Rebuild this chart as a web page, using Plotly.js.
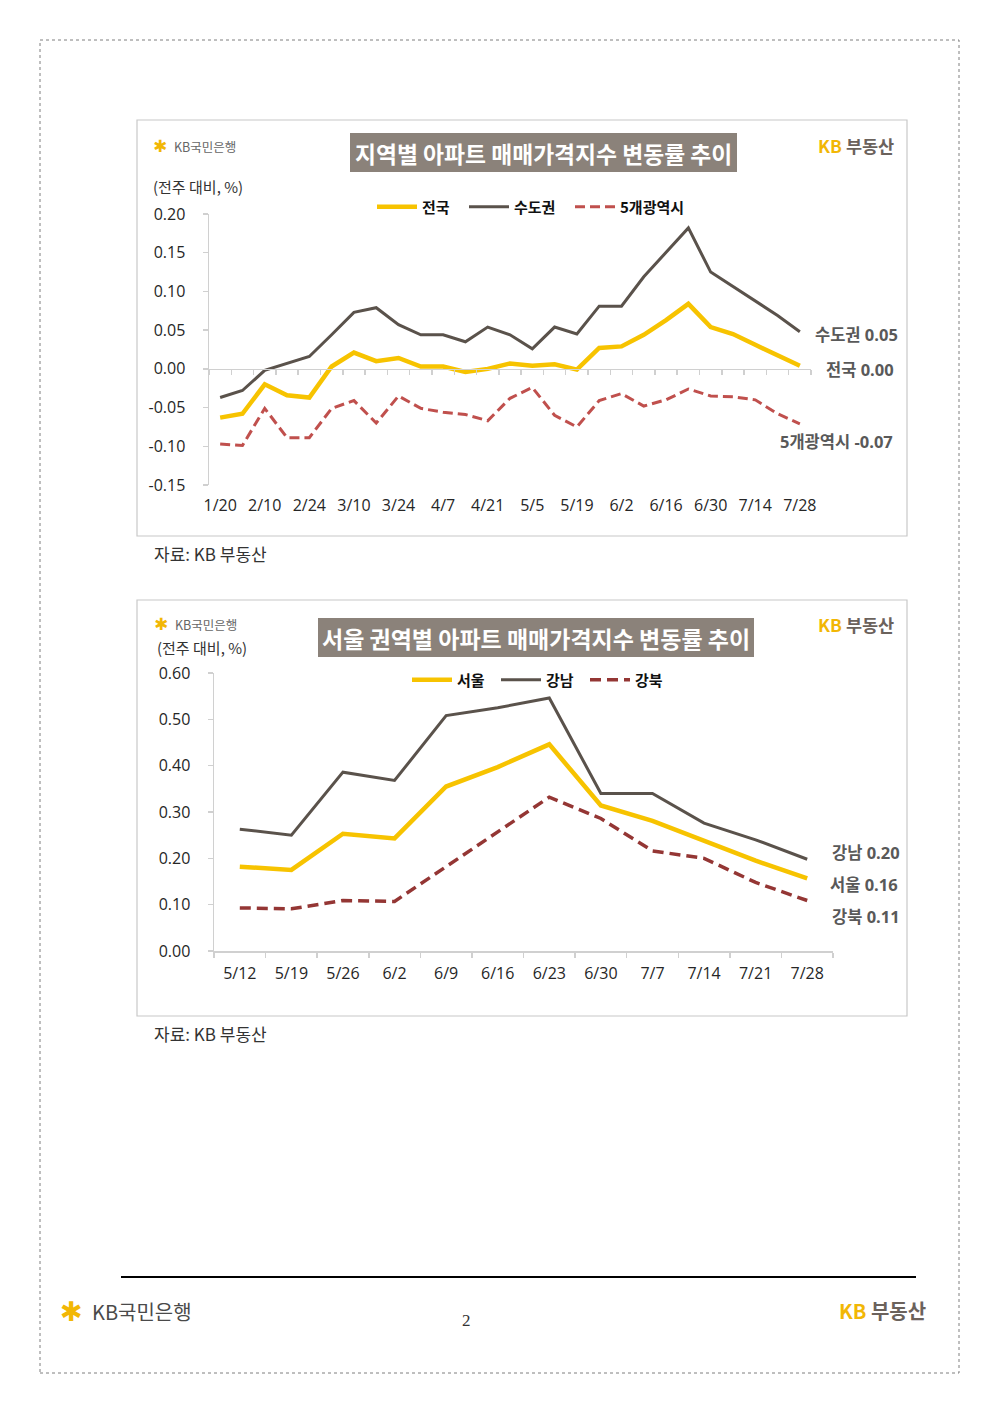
<!DOCTYPE html>
<html>
<head>
<meta charset="utf-8">
<script src="https://cdn.plot.ly/plotly-3.0.1.min.js"></script>
<style>
html,body{margin:0;padding:0;background:#fff;}
#chart{width:1000px;height:1414px;}
</style>
</head>
<body>
<div id="chart"></div>
<script>
// ---------- data ----------
const categories1 = ['1/20','2/3','2/10','2/17','2/24','3/3','3/10','3/17','3/24','3/31','4/7','4/14','4/21','4/28','5/5','5/12','5/19','5/26','6/2','6/9','6/16','6/23','6/30','7/7','7/14','7/21','7/28'];
const nationwide = [-0.063,-0.058,-0.020,-0.034,-0.037,0.003,0.021,0.010,0.014,0.003,0.003,-0.004,0.000,0.007,0.004,0.006,-0.001,0.027,0.029,0.044,0.063,0.084,0.054,0.045,0.031,0.017,0.004];
const capital = [-0.037,-0.028,-0.002,0.007,0.016,0.044,0.073,0.079,0.057,0.044,0.044,0.035,0.054,0.044,0.026,0.054,0.045,0.081,0.081,0.119,0.151,0.182,0.125,0.106,0.088,0.069,0.048];
const metro5 = [-0.097,-0.099,-0.051,-0.089,-0.089,-0.051,-0.041,-0.070,-0.035,-0.051,-0.056,-0.059,-0.067,-0.038,-0.024,-0.060,-0.075,-0.041,-0.032,-0.048,-0.040,-0.026,-0.035,-0.036,-0.040,-0.058,-0.071];
const series1Names = ['전국','수도권','5개광역시'];
const yTicks1 = [-0.15,-0.10,-0.05,0.00,0.05,0.10,0.15,0.20];

const categories2 = ['5/12','5/19','5/26','6/2','6/9','6/16','6/23','6/30','7/7','7/14','7/21','7/28'];
const seoul = [0.182,0.175,0.253,0.243,0.355,0.397,0.446,0.314,0.281,0.239,0.195,0.157];
const gangnam = [0.263,0.250,0.386,0.368,0.508,0.525,0.546,0.340,0.340,0.276,0.240,0.198];
const gangbuk = [0.093,0.091,0.109,0.107,0.182,0.256,0.332,0.286,0.216,0.200,0.148,0.109];
const series2Names = ['서울','강남','강북'];
const yTicks2 = [0.00,0.10,0.20,0.30,0.40,0.50,0.60];

const title1 = '지역별 아파트 매매가격지수 변동률 추이';
const title2 = '서울 권역별 아파트 매매가격지수 변동률 추이';
const unitLabel = '(전주 대비, %)';
const sourceLabel = '자료: KB 부동산';
const pageNumber = '2';

// ---------- style ----------
const W = 1000, H = 1414;
const px = x => x / W;
const py = y => 1 - y / H;
const FONT = "'Open Sans', 'Noto Sans CJK KR', sans-serif";
const KFONT = "'Noto Sans CJK KR', 'Open Sans', sans-serif";
const YELLOW = '#F7C300', DARK = '#5A524B', RED = '#C0504D', MAROON = '#943634';
const AXC = '#d0d0d0';
const TITLEBG = '#8B827A';

const idx1 = categories1.map((c, i) => i);
const idx2 = categories2.map((c, i) => i);
const labelIdx1 = idx1.filter(i => i % 2 === 0);

const traces = [
  {x: idx1, y: nationwide, name: series1Names[0], type: 'scatter', mode: 'lines', line: {color: YELLOW, width: 4.5}, xaxis: 'x', yaxis: 'y', legend: 'legend', legendwidth: 37},
  {x: idx1, y: capital, name: series1Names[1], type: 'scatter', mode: 'lines', line: {color: DARK, width: 3}, xaxis: 'x', yaxis: 'y', legend: 'legend', legendwidth: 51},
  {x: idx1, y: metro5, name: series1Names[2], type: 'scatter', mode: 'lines', line: {color: RED, width: 3, dash: '10px,5px'}, xaxis: 'x2', yaxis: 'y', legend: 'legend'},
  {x: idx2, y: seoul, name: series2Names[0], type: 'scatter', mode: 'lines', line: {color: YELLOW, width: 4.5}, xaxis: 'x3', yaxis: 'y2', legend: 'legend2', legendwidth: 34},
  {x: idx2, y: gangnam, name: series2Names[1], type: 'scatter', mode: 'lines', line: {color: DARK, width: 3}, xaxis: 'x3', yaxis: 'y2', legend: 'legend2', legendwidth: 34},
  {x: idx2, y: gangbuk, name: series2Names[2], type: 'scatter', mode: 'lines', line: {color: MAROON, width: 3.5, dash: '11px,6px'}, xaxis: 'x3', yaxis: 'y2', legend: 'legend2'}
];

// plot areas (pixels)
const c1 = {x0: 209, x1: 811, yTop: 214, yBot: 485};
const c2 = {x0: 214, x1: 833, yTop: 673, yBot: 951};
const y1Range = [yTicks1[0], yTicks1[yTicks1.length - 1]];
const y1Dom = [py(c1.yBot), py(c1.yTop)];
const zeroPos1 = y1Dom[0] + (0 - y1Range[0]) / (y1Range[1] - y1Range[0]) * (y1Dom[1] - y1Dom[0]);
const x1Range = [-0.5, categories1.length - 0.5];

const tickFont = {family: FONT, size: 16, color: '#262626'};

const layout = {
  width: W, height: H,
  margin: {l: 0, r: 0, t: 0, b: 0},
  paper_bgcolor: '#ffffff',
  plot_bgcolor: 'rgba(0,0,0,0)',
  showlegend: true,
  font: {family: FONT},
  xaxis: {
    domain: [px(c1.x0), px(c1.x1)], range: x1Range, anchor: 'y',
    tickmode: 'array', tickvals: labelIdx1, ticktext: labelIdx1.map(i => categories1[i]),
    showline: false, ticks: '', showgrid: false, zeroline: false,
    tickfont: tickFont, ticklabelstandoff: 9, fixedrange: true
  },
  xaxis2: {
    overlaying: 'x', range: x1Range, anchor: 'free', position: zeroPos1,
    showline: true, linecolor: AXC, linewidth: 1.5,
    ticks: 'outside', ticklen: 5, tickcolor: AXC, tickwidth: 1.5,
    tickmode: 'linear', tick0: -0.5, dtick: 1,
    showticklabels: false, showgrid: false, zeroline: false
  },
  yaxis: {
    domain: y1Dom, range: y1Range, anchor: 'x',
    tickmode: 'array', tickvals: yTicks1, ticktext: yTicks1.map(v => v.toFixed(2)),
    showline: true, linecolor: AXC, linewidth: 1.5,
    ticks: 'outside', ticklen: 5, tickcolor: AXC, tickwidth: 1.5,
    showgrid: false, zeroline: false, tickfont: tickFont, ticklabelstandoff: 14
  },
  xaxis3: {
    domain: [px(c2.x0), px(c2.x1)], range: [-0.5, categories2.length - 0.5], anchor: 'y2',
    tickmode: 'array', tickvals: idx2, ticktext: categories2,
    showline: true, linecolor: AXC, linewidth: 1.5, ticks: '',
    minor: {tickmode: 'linear', tick0: -0.5, dtick: 1, ticks: 'outside', ticklen: 5, tickcolor: AXC, tickwidth: 1.5, showgrid: false},
    showgrid: false, zeroline: false, tickfont: tickFont, ticklabelstandoff: 7
  },
  yaxis2: {
    domain: [py(c2.yBot), py(c2.yTop)], range: [yTicks2[0], yTicks2[yTicks2.length - 1]], anchor: 'x3',
    tickmode: 'array', tickvals: yTicks2, ticktext: yTicks2.map(v => v.toFixed(2)),
    showline: true, linecolor: AXC, linewidth: 1.5,
    ticks: 'outside', ticklen: 5, tickcolor: AXC, tickwidth: 1.5,
    showgrid: false, zeroline: false, tickfont: tickFont, ticklabelstandoff: 14
  },
  legend: {
    orientation: 'h', x: px(372), y: py(207), xanchor: 'left', yanchor: 'middle',
    font: {family: KFONT, size: 15, weight: 700, color: '#111'},
    bgcolor: 'rgba(0,0,0,0)', itemwidth: 40, itemclick: false, itemdoubleclick: false
  },
  legend2: {
    orientation: 'h', x: px(407), y: py(680), xanchor: 'left', yanchor: 'middle',
    font: {family: KFONT, size: 15, weight: 700, color: '#111'},
    bgcolor: 'rgba(0,0,0,0)', itemwidth: 40, itemclick: false, itemdoubleclick: false
  },
  shapes: [],
  annotations: []
};

function rect(x0, y0, x1, y1, opts) {
  layout.shapes.push(Object.assign({type: 'rect', xref: 'paper', yref: 'paper', x0: px(x0), x1: px(x1), y0: py(y1), y1: py(y0), layer: 'below'}, opts));
}
function ann(text, x, y, opts) {
  layout.annotations.push(Object.assign({text: text, xref: 'paper', yref: 'paper', x: px(x), y: py(y), showarrow: false, xanchor: 'left', yanchor: 'middle'}, opts));
}

// page frame
rect(40, 40, 959, 1373, {line: {color: '#7f7f7f', width: 1, dash: 'dot'}, fillcolor: 'rgba(0,0,0,0)'});
// chart boxes
rect(137, 120, 907, 536, {line: {color: '#c8c8c8', width: 1.2}, fillcolor: 'rgba(0,0,0,0)'});
rect(137, 600, 907, 1016, {line: {color: '#c8c8c8', width: 1.2}, fillcolor: 'rgba(0,0,0,0)'});
// title boxes
rect(350, 133, 737, 172, {line: {width: 0}, fillcolor: TITLEBG});
rect(318, 618, 754, 657, {line: {width: 0}, fillcolor: TITLEBG});
ann(title1, 543.5, 153, {xanchor: 'center', font: {family: KFONT, size: 22.8, color: '#ffffff', weight: 700}});
ann(title2, 536, 638, {xanchor: 'center', font: {family: KFONT, size: 23, color: '#ffffff', weight: 700}});

// footer line
layout.shapes.push({type: 'line', xref: 'paper', yref: 'paper', x0: px(121), x1: px(916), y0: py(1277), y1: py(1277), line: {color: '#000', width: 2}});

// logos
function kbBankLogo(x, y, s, col) {
  ann('✱', x, y, {xanchor: 'center', font: {family: 'DejaVu Sans', size: s * 1.35, color: '#F2B705'}});
  ann('KB국민은행', x + s * 0.95, y, {font: {family: KFONT, size: s, color: col}});
}
kbBankLogo(160, 146, 12.5, '#666');
kbBankLogo(161, 624, 12.5, '#666');
kbBankLogo(71, 1311, 20, '#4a4a4a');

function kbRealty(x, y, s) {
  ann("<span style='color:#F2B705'>KB</span> <span style='color:#6b625c'>부동산</span>", x, y, {xanchor: 'center', font: {family: KFONT, size: s, weight: 700, color: '#6b625c'}});
}
kbRealty(856, 145, 17.5);
kbRealty(856, 624, 17.5);
kbRealty(882, 1310, 20);

// unit labels
ann(unitLabel, 151, 187, {font: {family: KFONT, size: 15, color: '#333'}});
ann(unitLabel, 155, 647, {font: {family: KFONT, size: 15, color: '#333'}});

// source labels
ann(sourceLabel, 152, 553, {font: {family: KFONT, size: 17, color: '#333'}});
ann(sourceLabel, 152, 1033, {font: {family: KFONT, size: 17, color: '#333'}});

// page number
ann(pageNumber, 466, 1320, {xanchor: 'center', font: {family: "'Liberation Serif', 'DejaVu Serif', serif", size: 17, color: '#333'}});

// end labels
const endFont = {family: FONT, size: 16.5, color: '#595959', weight: 700};
const last = a => a[a.length - 1].toFixed(2);
ann(series1Names[1] + ' ' + last(capital), 813, 334, {font: endFont});
ann(series1Names[0] + ' ' + last(nationwide), 824, 369, {font: endFont});
ann(series1Names[2] + ' ' + last(metro5), 778, 441, {font: endFont});
ann(series2Names[1] + ' ' + last(gangnam), 830, 852, {font: endFont});
ann(series2Names[0] + ' ' + last(seoul), 828, 884, {font: endFont});
ann(series2Names[2] + ' ' + last(gangbuk), 830, 916, {font: endFont});

Plotly.newPlot('chart', traces, layout, {staticPlot: true, displayModeBar: false});
</script>
</body>
</html>
